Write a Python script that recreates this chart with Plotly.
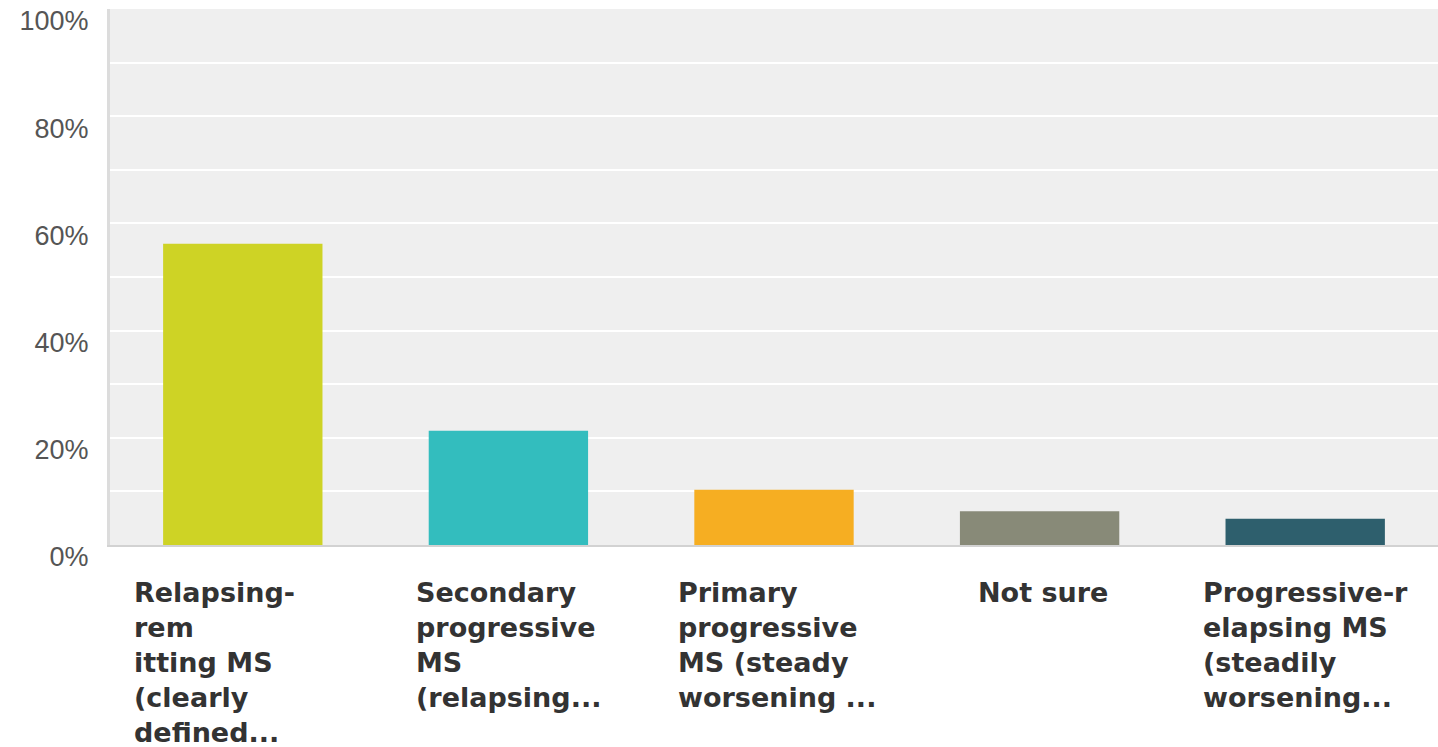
import plotly.graph_objects as go

categories = [
    "Relapsing-<br>rem<br>itting MS<br>(clearly<br>defined...",
    "Secondary<br>progressive<br>MS<br>(relapsing...",
    "Primary<br>progressive<br>MS (steady<br>worsening ...",
    "Not sure",
    "Progressive-r<br>elapsing MS<br>(steadily<br>worsening...",
]
values = [56.2, 21.3, 10.3, 6.3, 4.9]
colors = ["#CED325", "#33BDBE", "#F6AE22", "#888A78", "#2E5F6D"]
label_shift = [-28, 0, 3, 3, 0]
tick_vals = [0, 10, 20, 30, 40, 50, 60, 70, 80, 90, 100]
tick_text = ["0%", "", "20%", "", "40%", "", "60%", "", "80%", "", "100%"]

x_ids = list(range(len(categories)))

fig = go.Figure()
fig.add_trace(go.Bar(
    x=x_ids, y=values, width=0.6,
    marker=dict(color=colors, line=dict(width=0)),
    hoverinfo="skip",
))

for i, (cat, sh) in enumerate(zip(categories, label_shift)):
    fig.add_annotation(
        x=i, xref="x", y=0, yref="paper", yanchor="top", yshift=-30,
        xanchor="center", xshift=sh, align="left", showarrow=False,
        text="<b>" + cat + "</b>",
        font=dict(family="DejaVu Sans", size=27, color="#333333"),
    )

fig.update_layout(
    width=1438, height=747,
    margin=dict(l=110, r=0, t=9, b=202, autoexpand=False),
    plot_bgcolor="#EFEFEF", paper_bgcolor="white",
    showlegend=False, bargap=0.4,
)
fig.update_xaxes(
    range=[-0.5, 4.5], showticklabels=False, showgrid=False, zeroline=False,
    showline=True, linecolor="#D2D2D2", linewidth=2, ticks="", automargin=False,
)
fig.update_yaxes(
    range=[0, 100], tickvals=tick_vals, ticktext=tick_text,
    showgrid=True, gridcolor="white", gridwidth=2, zeroline=False,
    showline=True, linecolor="#DCDCDC", linewidth=3, ticks="",
    ticklabelstandoff=13, ticklabelshift=12, automargin=False,
    ticklabeloverflow="allow",
    tickfont=dict(family="Liberation Sans", size=27, color="#555555"),
)

fig.write_html(
    "out.html",
    config={"displayModeBar": False},
    post_script="document.body.style.margin='0';document.body.style.overflow='hidden';",
)
